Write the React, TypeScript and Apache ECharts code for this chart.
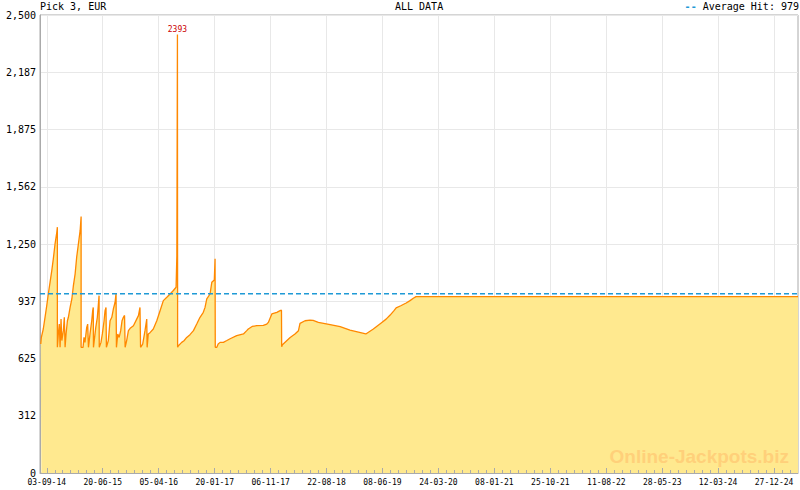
import React, { useEffect, useRef } from "react";
import * as echarts from "echarts";

// ---- data ----
const ORIGIN_LABEL = "03-09-14"; // day 0 of the x scale
const xTickLabels = [
  "03-09-14", "20-06-15", "05-04-16", "20-01-17", "06-11-17", "22-08-18", "08-06-19",
  "24-03-20", "08-01-21", "25-10-21", "11-08-22", "28-05-23", "12-03-24", "27-12-24",
];
const X_MIN_DAY = -35;
const X_MAX_DAY = 3892;
const Y_MAX = 2500;
const Y_STEP = 312.5;
const AVERAGE_HIT = 979;

// days since 03-09-14
const daysSinceStart = [
  -31, -28, -18, -9, 0, 8, 17, 26, 34, 43, 52, 55, 55,
  60, 65, 69, 74, 78, 86, 91, 95, 100, 107, 112,
  121, 130, 138, 147, 155, 164, 173, 178, 178,
  188, 193, 198, 207, 212, 216, 224, 233, 238, 241, 242,
  254, 262, 267, 271, 272, 281, 288, 297, 302, 307, 309,
  319, 328, 337, 345, 354, 359, 361, 368, 375, 383, 390, 397, 403, 406,
  414, 423, 432, 449, 466, 475, 483, 486, 497, 509, 518, 520,
  526, 535, 552, 570, 587, 604, 622, 639, 656, 670, 674, 677, 678,
  682, 699, 711, 725, 742, 760, 777, 794, 811, 820, 829, 846, 855, 868, 872, 873,
  881, 888, 898, 915, 933, 950, 984, 1019, 1036, 1044, 1064, 1088, 1122, 1140, 1148,
  1166, 1192, 1209, 1216, 1217,
  1221, 1243, 1261, 1286, 1304, 1312, 1338, 1364, 1380, 1407, 1468, 1520, 1571, 1653,
  1692, 1736, 1758, 1779, 1799, 1810, 1834, 1862, 1882, 1899, 1913, 3892,
];
// jackpot, EUR
const jackpotEUR = [
  704, 740, 786, 850, 914, 977, 1041, 1105, 1169, 1251, 1314, 1342, 686,
  759, 813, 686, 840, 723, 777, 850, 686, 759, 831, 850,
  904, 950, 1023, 1087, 1178, 1251, 1324, 1400, 686,
  686, 740, 713, 795, 813, 686, 759, 831, 886, 904, 686,
  795, 850, 914, 968, 686, 713, 759, 831, 886, 904, 686,
  723, 831, 850, 895, 932, 981, 686, 759, 740, 777, 831, 850, 860, 686,
  723, 777, 790, 804, 840, 859, 904, 686, 704, 777, 840, 686,
  759, 766, 786, 831, 886, 941, 959, 977, 996, 1014, 1187, 2393, 686,
  695, 713, 722, 740, 755, 777, 813, 850, 877, 904, 950, 977, 1041, 1054, 1169, 686,
  686, 704, 713, 713, 723, 733, 750, 759, 777, 786, 800, 804, 806, 813, 822,
  868, 877, 886, 889, 689,
  700, 722, 740, 759, 777, 817, 831, 835, 833, 822, 810, 799, 780, 759,
  786, 822, 840, 862, 886, 901, 913, 928, 941, 954, 963, 963,
];

// ---- helpers ----
const DAY_MS = 86400000;
const parseDMY = (s: string) => {
  const [d, m, y] = s.split("-").map(Number);
  return Date.UTC(2000 + y, m - 1, d);
};
const majorDays = xTickLabels.map((s) =>
  Math.round((parseDMY(s) - parseDMY(ORIGIN_LABEL)) / DAY_MS)
);
const minorDays: number[] = [];
majorDays.forEach((a, i) => {
  const next = i < majorDays.length - 1 ? majorDays[i + 1] : a + (a - majorDays[i - 1]);
  const step = (next - a) / 7;
  for (let j = 1; j < 7; j++) {
    const v = a + j * step;
    if (v <= X_MAX_DAY) minorDays.push(v);
  }
});

const MONO = "'DejaVu Sans Mono', monospace";
const AXIS_GRAY = "#aaaaaa";
const GRID_GRAY = "#e8e8e8";
const AVG_BLUE = "#1f9ad6";

export default function App() {
  const ref = useRef<HTMLDivElement>(null);
  useEffect(() => {
    document.body.style.margin = "0";
    if (!ref.current) return;
    const chart = echarts.init(ref.current, undefined, { renderer: "svg" });
    const labelFor = (v: number) => {
      let best = 0;
      majorDays.forEach((d, i) => {
        if (Math.abs(d - v) < Math.abs(majorDays[best] - v)) best = i;
      });
      return xTickLabels[best];
    };
    const baseX = {
      type: "value",
      min: X_MIN_DAY,
      max: X_MAX_DAY,
      position: "bottom",
      gridIndex: 0,
    };
    chart.setOption({
      animation: false,
      backgroundColor: "#ffffff",
      textStyle: { fontFamily: MONO },
      title: [
        {
          text: "Pick 3, EUR",
          left: 40,
          top: 1,
          padding: 0,
          textStyle: { fontSize: 10, fontWeight: "normal", color: "#000", fontFamily: MONO },
        },
        {
          text: "ALL DATA",
          left: 395,
          top: 1,
          padding: 0,
          textStyle: { fontSize: 10, fontWeight: "normal", color: "#000", fontFamily: MONO },
        },
        {
          text: "{d|--} Average Hit: " + AVERAGE_HIT,
          right: 1,
          top: 1,
          padding: 0,
          textStyle: {
            fontSize: 10,
            fontWeight: "normal",
            color: "#000",
            fontFamily: MONO,
            rich: { d: { color: AVG_BLUE, fontSize: 10, fontWeight: "bold", fontFamily: MONO } },
          },
        },
      ],
      grid: {
        left: 40,
        right: 2,
        top: 15,
        bottom: 17,
        show: true,
        borderColor: AXIS_GRAY,
        borderWidth: 1,
        backgroundColor: "transparent",
        containLabel: false,
        outerBoundsMode: "none",
      },
      xAxis: [
        {
          ...baseX,
          axisLine: { show: true, onZero: false, lineStyle: { color: AXIS_GRAY } },
          axisTick: {
            show: true,
            inside: true,
            length: 1,
            customValues: majorDays,
            lineStyle: { color: GRID_GRAY },
          },
          axisLabel: { show: false },
          splitLine: { show: true, lineStyle: { color: GRID_GRAY } },
          minorTick: { show: false },
        },
        {
          ...baseX,
          z: 10,
          axisLine: { show: false, onZero: false },
          axisTick: {
            show: true,
            inside: true,
            length: 5,
            customValues: majorDays,
            lineStyle: { color: AXIS_GRAY },
          },
          axisLabel: {
            show: true,
            customValues: majorDays,
            formatter: (v: number) => labelFor(v),
            margin: 5,
            fontSize: 8,
            lineHeight: 8,
            color: "#000",
            fontFamily: MONO,
          },
          splitLine: { show: false },
        },
        {
          ...baseX,
          z: 10,
          axisLine: { show: false, onZero: false },
          axisTick: {
            show: true,
            inside: true,
            length: 3,
            customValues: minorDays,
            lineStyle: { color: AXIS_GRAY },
          },
          axisLabel: { show: false },
          splitLine: { show: false },
        },
      ],
      yAxis: {
        type: "value",
        min: 0,
        max: Y_MAX,
        interval: Y_STEP,
        axisLine: { show: true, onZero: false, lineStyle: { color: AXIS_GRAY } },
        axisTick: { show: false },
        axisLabel: {
          formatter: (v: number) => Math.floor(v).toLocaleString("en-US"),
          fontSize: 10,
          lineHeight: 10,
          color: "#000",
          margin: 4,
          fontFamily: MONO,
        },
        splitLine: { show: true, lineStyle: { color: GRID_GRAY } },
      },
      series: [
        {
          name: "Pick 3, EUR",
          type: "line",
          xAxisIndex: 0,
          data: daysSinceStart.map((d, i) => [d, jackpotEUR[i]]),
          symbol: "none",
          showSymbol: false,
          lineStyle: { color: "#ff8800", width: 1.3 },
          itemStyle: { color: "#ff8800" },
          areaStyle: { color: "#ffe98f", opacity: 1 },
          markPoint: {
            silent: true,
            symbol: "circle",
            symbolSize: 1,
            itemStyle: { color: "rgba(0,0,0,0)" },
            label: {
              show: true,
              position: "top",
              distance: 1,
              formatter: "{c}",
              color: "#cc0000",
              fontSize: 8,
              fontFamily: MONO,
            },
            data: [{ type: "max" }],
          },
        },
        {
          name: "Average Hit",
          type: "line",
          xAxisIndex: 0,
          z: 5,
          silent: true,
          data: [
            [X_MIN_DAY, AVERAGE_HIT],
            [X_MAX_DAY, AVERAGE_HIT],
          ],
          symbol: "none",
          showSymbol: false,
          itemStyle: { color: AVG_BLUE },
          lineStyle: { color: AVG_BLUE, type: [5, 3], width: 1.5 },
        },
      ],
      graphic: [
        {
          type: "text",
          right: 11,
          top: 447,
          z: 100,
          silent: true,
          style: {
            text: "Online-Jackpots.biz",
            fill: "#ffd07a",
            fontSize: 19,
            fontWeight: "bold",
            fontFamily: "'Liberation Sans', Arial, sans-serif",
          },
        },
      ],
    });
    return () => chart.dispose();
  }, []);
  return <div ref={ref} style={{ width: 800, height: 490 }} />;
}
